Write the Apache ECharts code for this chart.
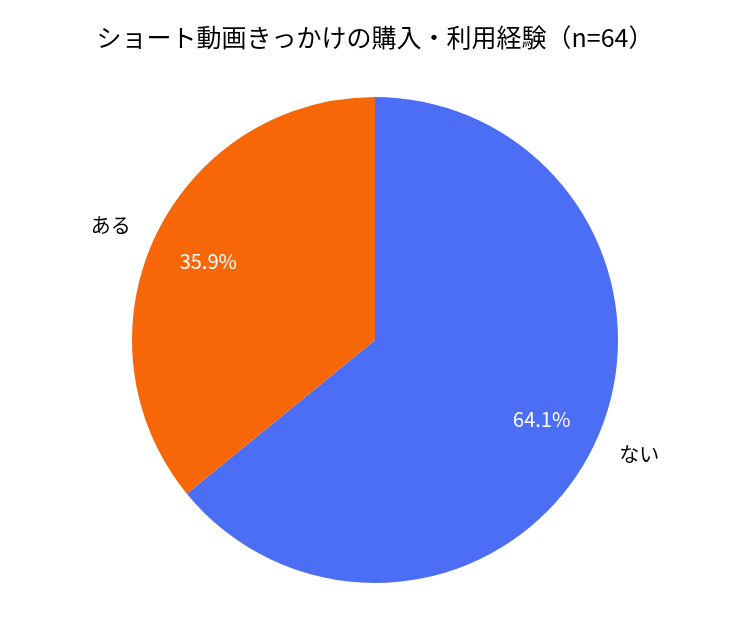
<!DOCTYPE html>
<html><head><meta charset="utf-8">
<script src="https://cdn.jsdelivr.net/npm/echarts@6/dist/echarts.min.js"></script>
<style>html,body{margin:0;padding:0;background:#fff}#c{width:750px;height:630px}</style>
</head><body><div id="c"></div>
<script>
const titleText = 'ショート動画きっかけの購入・利用経験（n=64）';
const categories = ['ない', 'ある'];
const values = [64.1, 35.9];
const colors = ['#4C6EF5', '#F76707'];

const data = categories.map((c, i) => ({ name: c, value: values[i], itemStyle: { color: colors[i] } }));
const FONT = '"Noto Sans CJK JP", "Noto Sans", sans-serif';
const chart = echarts.init(document.getElementById('c'));
chart.setOption({
  backgroundColor: '#fff',
  animation: false,
  title: { text: titleText, left: 'center', top: 20, textStyle: { fontFamily: FONT, fontSize: 25, fontWeight: 'normal', color: '#000' } },
  series: [
    {
      type: 'pie', center: [375, 340], radius: [0, 243], startAngle: 90, clockwise: true,
      avoidLabelOverlap: false, silent: true,
      data: data,
      itemStyle: { borderColor: '#fff', borderWidth: 0 },
      label: { show: true, position: 'outside', formatter: '{b}', fontFamily: FONT, fontSize: 20, color: '#000', distanceToLabelLine: 3 },
      labelLine: { show: false, length: 24, length2: 0 }
    },
    {
      type: 'pie', center: [375, 340], radius: [150, 213], startAngle: 90, clockwise: true,
      avoidLabelOverlap: false, silent: true,
      data: categories.map((c, i) => ({ name: c, value: values[i] })),
      itemStyle: { color: 'rgba(0,0,0,0)' },
      label: { show: true, position: 'inside', formatter: p => p.value.toFixed(1) + '%', fontFamily: FONT, fontSize: 20, color: '#fff' },
      labelLine: { show: false }
    }
  ]
});
</script></body></html>
